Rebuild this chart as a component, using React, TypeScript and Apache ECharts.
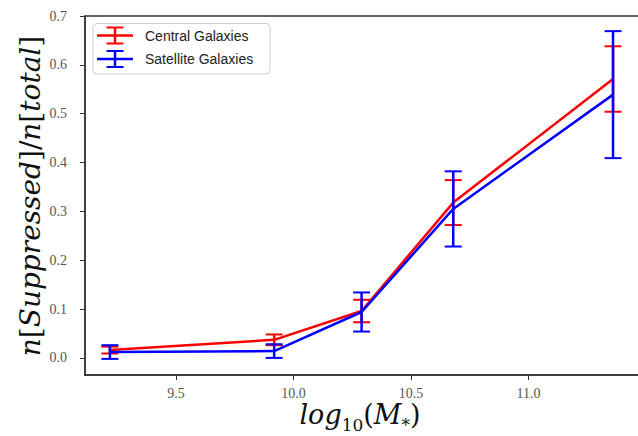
import React, { useEffect, useRef } from "react";
import * as echarts from "echarts";

const massBins = [9.219, 9.918, 10.29, 10.68, 11.36];
const centralFrac = [0.016, 0.037, 0.096, 0.318, 0.571];
const centralErr = [0.007, 0.011, 0.023, 0.046, 0.067];
const satelliteFrac = [0.012, 0.014, 0.094, 0.305, 0.539];
const satelliteErr = [0.014, 0.014, 0.040, 0.077, 0.130];
const yTicks = [0, 0.1, 0.2, 0.3, 0.4, 0.5, 0.6, 0.7];
const xTicks = [9.5, 10.0, 10.5, 11.0];
const seriesNames = ["Central Galaxies", "Satellite Galaxies"];

const RED = "#ff0000";
const BLUE = "#0000ff";
const SERIF = "'Liberation Serif', 'DejaVu Serif', serif";
const MATH = "'DejaVu Serif', serif";

function errRender(color: string) {
  return (params: any, api: any) => {
    const x = api.value(0);
    const y = api.value(1);
    const e = api.value(2);
    const top = api.coord([x, y + e]);
    const bot = api.coord([x, y - e]);
    const hw = 8.5;
    const st = { stroke: color, lineWidth: 2 };
    return {
      type: "group",
      children: [
        { type: "line", shape: { x1: top[0], y1: top[1], x2: bot[0], y2: bot[1] }, style: { stroke: color, lineWidth: 2.5 } },
        { type: "line", shape: { x1: top[0] - hw, y1: top[1], x2: top[0] + hw, y2: top[1] }, style: st },
        { type: "line", shape: { x1: bot[0] - hw, y1: bot[1], x2: bot[0] + hw, y2: bot[1] }, style: st },
      ],
    };
  };
}

function legendItem(color: string, cy: number, label: string) {
  return [
    { type: "line", shape: { x1: 97, y1: cy, x2: 133, y2: cy }, style: { stroke: color, lineWidth: 2.5 } },
    { type: "line", shape: { x1: 115, y1: cy - 8, x2: 115, y2: cy + 8 }, style: { stroke: color, lineWidth: 2.5 } },
    { type: "line", shape: { x1: 106.5, y1: cy - 8, x2: 123.5, y2: cy - 8 }, style: { stroke: color, lineWidth: 2 } },
    { type: "line", shape: { x1: 106.5, y1: cy + 8, x2: 123.5, y2: cy + 8 }, style: { stroke: color, lineWidth: 2 } },
    {
      type: "text",
      x: 145,
      y: cy,
      style: { text: label, fill: "#222", fontFamily: "'Liberation Sans', sans-serif", fontSize: 14, verticalAlign: "middle", align: "left" },
    },
  ];
}

export default function App() {
  const ref = useRef<HTMLDivElement>(null);
  useEffect(() => {
    if (!ref.current) return;
    const chart = echarts.init(ref.current, undefined, { renderer: "svg" });
    const axisLine = { show: true, onZero: false, lineStyle: { color: "#333", width: 1.5 } };
    chart.setOption({
      animation: false,
      backgroundColor: "#fff",
      grid: {
        left: 85,
        top: 16,
        width: 556,
        height: 359,
        show: true,
        borderColor: "#333",
        borderWidth: 1.5,
        containLabel: false,
        outerBoundsMode: "none",
      },
      xAxis: {
        type: "value",
        min: 9.113,
        max: 11.479,
        axisLine,
        splitLine: { show: false },
        axisTick: { show: true, length: 5, inside: false, customValues: xTicks, lineStyle: { color: "#333", width: 1 } },
        axisLabel: {
          customValues: xTicks,
          margin: 11,
          color: "#555",
          fontFamily: SERIF,
          fontSize: 14,
          formatter: (v: number) => v.toFixed(1),
        },
      },
      yAxis: {
        type: "value",
        min: -0.035,
        max: 0.7,
        axisLine,
        splitLine: { show: false },
        axisTick: { show: true, length: 5, inside: false, customValues: yTicks, lineStyle: { color: "#333", width: 1 } },
        axisLabel: {
          customValues: yTicks,
          margin: 18,
          color: "#555",
          fontFamily: SERIF,
          fontSize: 14,
          formatter: (v: number) => v.toFixed(1),
        },
      },
      series: [
        {
          name: seriesNames[0],
          type: "line",
          data: massBins.map((x, i) => [x, centralFrac[i]]),
          showSymbol: false,
          lineStyle: { color: RED, width: 2.5 },
          z: 2,
        },
        {
          type: "custom",
          data: massBins.map((x, i) => [x, centralFrac[i], centralErr[i]]),
          encode: { x: 0, y: 1 },
          renderItem: errRender(RED),
          clip: false,
          z: 3,
        },
        {
          name: seriesNames[1],
          type: "line",
          data: massBins.map((x, i) => [x, satelliteFrac[i]]),
          showSymbol: false,
          lineStyle: { color: BLUE, width: 2.5 },
          z: 4,
        },
        {
          type: "custom",
          data: massBins.map((x, i) => [x, satelliteFrac[i], satelliteErr[i]]),
          encode: { x: 0, y: 1 },
          renderItem: errRender(BLUE),
          clip: false,
          z: 5,
        },
      ],
      graphic: [
        {
          type: "text",
          x: 30,
          y: 196,
          rotation: Math.PI / 2,
          style: {
            text: "{i|n}{r|[}{i|Suppressed}{r|]/}{i|n}{r|[}{i|total}{r|]}",
            align: "center",
            verticalAlign: "middle",
            rich: {
              i: { fontFamily: MATH, fontStyle: "italic", fontSize: 28, fill: "#111" },
              r: { fontFamily: MATH, fontSize: 28, fill: "#111" },
            },
          },
        },
        {
          type: "text",
          x: 360,
          y: 413,
          style: {
            text: "{i|log}{s|10}{r|(}{i|M}{s|*}{r|)}",
            align: "center",
            verticalAlign: "middle",
            rich: {
              i: { fontFamily: MATH, fontStyle: "italic", fontSize: 27, fill: "#111", verticalAlign: "bottom", lineHeight: 30 },
              r: { fontFamily: MATH, fontSize: 27, fill: "#111", verticalAlign: "bottom", lineHeight: 30 },
              s: { fontFamily: MATH, fontSize: 17, fill: "#111", verticalAlign: "bottom", lineHeight: 30, padding: [0, 0, -5, 0] },
            },
          },
        },
        {
          type: "group",
          z: 100,
          children: [
            {
              type: "rect",
              shape: { x: 93, y: 23.5, width: 177, height: 50.5, r: 4 },
              style: { fill: "rgba(255,255,255,0.85)", stroke: "#cccccc", lineWidth: 1 },
            },
            ...legendItem(RED, 35.5, seriesNames[0]),
            ...legendItem(BLUE, 59, seriesNames[1]),
          ],
        },
      ],
    });
    return () => chart.dispose();
  }, []);
  return <div ref={ref} style={{ position: "fixed", left: 0, top: 0, width: 638, height: 436 }} />;
}
